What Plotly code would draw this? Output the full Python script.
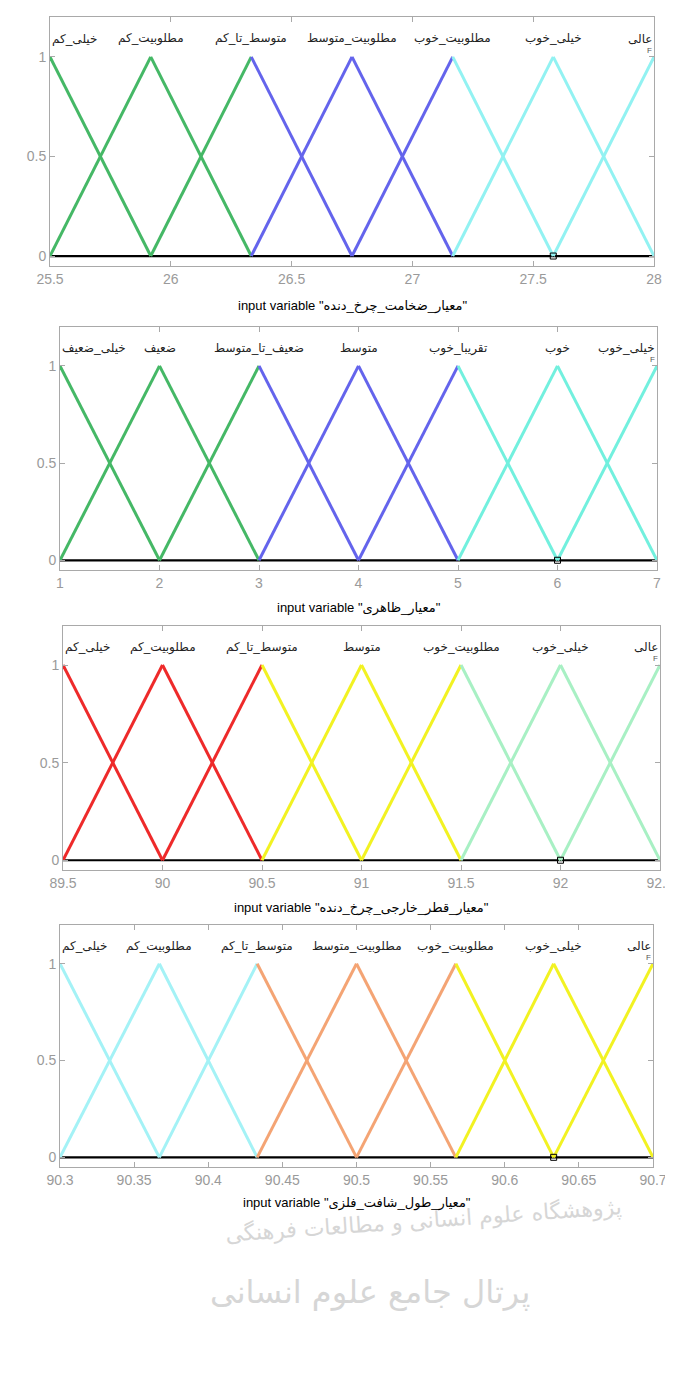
import plotly.graph_objects as go

W, H = 673, 1382

# ---------------- data ----------------
p1_peaks = [25.5, 25.917, 26.333, 26.75, 27.167, 27.583, 28.0]
p1_labels = ["خیلی_کم", "مطلوبیت_کم", "متوسط_تا_کم", "مطلوبیت_متوسط", "مطلوبیت_خوب", "خیلی_خوب", "عالی"]
p1_ticks = [25.5, 26, 26.5, 27, 27.5, 28]
p1_ticktext = ["25.5", "26", "26.5", "27", "27.5", "28"]
p1_title = 'input variable "معیار_ضخامت_چرخ_دنده"'

p2_peaks = [1, 2, 3, 4, 5, 6, 7]
p2_labels = ["خیلی_ضعیف", "ضعیف", "ضعیف_تا_متوسط", "متوسط", "تقریبا_خوب", "خوب", "خیلی_خوب"]
p2_ticks = [1, 2, 3, 4, 5, 6, 7]
p2_ticktext = ["1", "2", "3", "4", "5", "6", "7"]
p2_title = 'input variable "معیار_ظاهری"'

p3_peaks = [89.5, 90.0, 90.5, 91.0, 91.5, 92.0, 92.5]
p3_labels = ["خیلی_کم", "مطلوبیت_کم", "متوسط_تا_کم", "متوسط", "مطلوبیت_خوب", "خیلی_خوب", "عالی"]
p3_ticks = [89.5, 90, 90.5, 91, 91.5, 92, 92.5]
p3_ticktext = ["89.5", "90", "90.5", "91", "91.5", "92", "92.5"]
p3_title = 'input variable "معیار_قطر_خارجی_چرخ_دنده"'

p4_peaks = [90.3, 90.367, 90.433, 90.5, 90.567, 90.633, 90.7]
p4_labels = ["خیلی_کم", "مطلوبیت_کم", "متوسط_تا_کم", "مطلوبیت_متوسط", "مطلوبیت_خوب", "خیلی_خوب", "عالی"]
p4_ticks = [90.3, 90.35, 90.4, 90.45, 90.5, 90.55, 90.6, 90.65, 90.7]
p4_ticktext = ["90.3", "90.35", "90.4", "90.45", "90.5", "90.55", "90.6", "90.65", "90.7"]
p4_title = 'input variable "معیار_طول_شافت_فلزی"'

y_ticks = [0, 0.5, 1]
y_ticktext = ["0", "0.5", "1"]

# ---------------- styles / layout ----------------
panels = [
    dict(peaks=p1_peaks, labels=p1_labels, ticks=p1_ticks, ticktext=p1_ticktext, title=p1_title,
         colors=["#45b866", "#6464ec", "#92f2f2"], box=(42, 646, 9, 258), title_y=298),
    dict(peaks=p2_peaks, labels=p2_labels, ticks=p2_ticks, ticktext=p2_ticktext, title=p2_title,
         colors=["#45b866", "#6464ec", "#72f0de"], box=(52, 649, 319, 562), title_y=600),
    dict(peaks=p3_peaks, labels=p3_labels, ticks=p3_ticks, ticktext=p3_ticktext, title=p3_title,
         colors=["#ee2a2a", "#f2f222", "#a8f0c4"], box=(55, 652, 618, 862), title_y=900),
    dict(peaks=p4_peaks, labels=p4_labels, ticks=p4_ticks, ticktext=p4_ticktext, title=p4_title,
         colors=["#a4f2f6", "#f4a474", "#f2f222"], box=(52, 645, 917, 1159), title_y=1195),
]

FONT = "Liberation Sans, Arial, DejaVu Sans, sans-serif"
AXC = "#a9a9a9"
TICKC = "#9a9a9a"

fig = go.Figure()
annotations = []
layout = {}

for i, p in enumerate(panels):
    n = "" if i == 0 else str(i + 1)
    xa, ya = "x" + n, "y" + n
    peaks = p["peaks"]
    x0, x1, yt, yb = p["box"]

    # baseline
    fig.add_trace(go.Scatter(x=[peaks[0], peaks[-1]], y=[0, 0], mode="lines",
                             line=dict(color="black", width=2.2), xaxis=xa, yaxis=ya,
                             hoverinfo="skip", showlegend=False, cliponaxis=False))
    # triangle membership functions, segment by segment
    for k in range(len(peaks) - 1):
        col = p["colors"][k // 2]
        for ys in ([1, 0], [0, 1]):
            fig.add_trace(go.Scatter(x=[peaks[k], peaks[k + 1]], y=ys, mode="lines",
                                     line=dict(color=col, width=3), xaxis=xa, yaxis=ya,
                                     hoverinfo="skip", showlegend=False))
    # small square marker at 6th peak base
    fig.add_trace(go.Scatter(x=[peaks[5]], y=[0], mode="markers",
                             marker=dict(symbol="square-open", size=6, color="black", line=dict(width=1)),
                             xaxis=xa, yaxis=ya, hoverinfo="skip", showlegend=False))

    layout["xaxis" + n] = dict(domain=[x0 / W, x1 / W], anchor=ya, range=[peaks[0], peaks[-1]],
                               tickvals=p["ticks"], ticktext=p["ticktext"], automargin=False,
                               showline=True, linecolor=AXC, linewidth=1, mirror="allticks",
                               ticks="inside", ticklen=5, tickcolor=AXC,
                               tickfont=dict(size=14, color=TICKC, family=FONT),
                               showgrid=False, zeroline=False)
    layout["yaxis" + n] = dict(domain=[1 - yb / H, 1 - yt / H], anchor=xa, range=[-0.05, 1.2],
                               tickvals=y_ticks, ticktext=y_ticktext, automargin=False,
                               showline=True, linecolor=AXC, linewidth=1, mirror="allticks",
                               ticks="inside", ticklen=5, tickcolor=AXC,
                               tickfont=dict(size=14, color=TICKC, family=FONT),
                               showgrid=False, zeroline=False)

    # MF labels
    for j, (pk, lab) in enumerate(zip(peaks, p["labels"])):
        anchor = "left" if j == 0 else ("right" if j == len(peaks) - 1 else "center")
        annotations.append(dict(x=pk, y=1.09, xref=xa, yref=ya, text=lab, showarrow=False,
                                xanchor=anchor, yanchor="middle",
                                font=dict(size=12, color="#222222", family=FONT)))
    # small F glyph under last label
    annotations.append(dict(x=peaks[-1], y=1.0, xref=xa, yref=ya, text="F", showarrow=False,
                            xanchor="right", yanchor="bottom",
                            font=dict(size=8, color="#555555", family=FONT)))
    # axis title
    annotations.append(dict(x=(x0 + x1) / 2 / W, y=1 - p["title_y"] / H, xref="paper", yref="paper",
                            text=p["title"], showarrow=False, xanchor="center", yanchor="middle",
                            font=dict(size=13, color="black", family=FONT)))

# watermark texts
annotations.append(dict(x=415 / W, y=1 - 1242 / H, xref="paper", yref="paper",
                        text="پژوهشگاه علوم انسانی و مطالعات فرهنگی", showarrow=False,
                        textangle=-4, font=dict(size=22, color="#d6d6d6", family="DejaVu Sans")))
annotations.append(dict(x=362 / W, y=1 - 1305 / H, xref="paper", yref="paper",
                        text="پرتال جامع علوم انسانی", showarrow=False,
                        font=dict(size=32, color="#d6d6d6", family="DejaVu Sans")))

fig.update_layout(width=W, height=H, margin=dict(l=0, r=0, t=0, b=0),
                  paper_bgcolor="white", plot_bgcolor="white",
                  annotations=annotations, showlegend=False, **layout)

fig.write_html("out.html")
